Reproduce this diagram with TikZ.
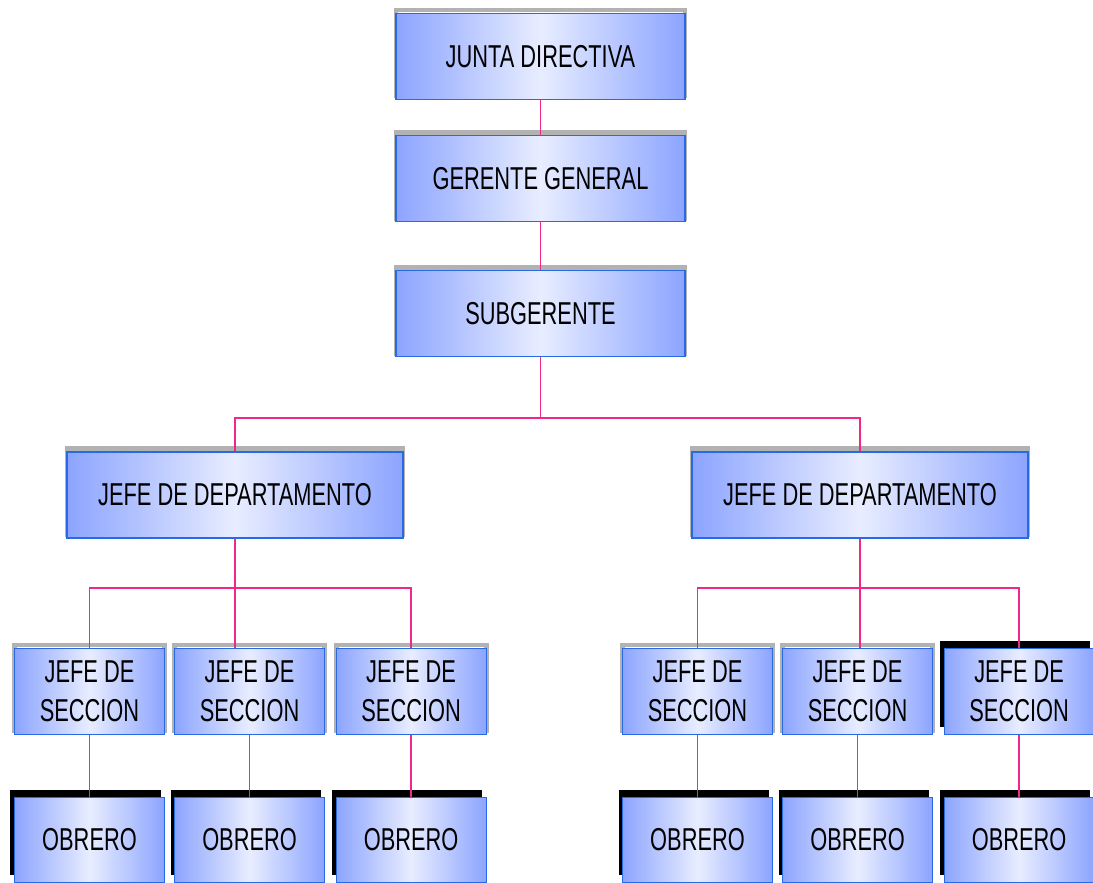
\documentclass[tikz,border=0pt]{standalone}
\usepackage{fontspec}
\newfontfamily\orgfont{Liberation Sans}[FakeStretch=0.69]
\usetikzlibrary{positioning,shadows}

\definecolor{boxedge}{RGB}{140,164,255}
\definecolor{boxmid}{RGB}{232,237,255}
\definecolor{boxline}{RGB}{40,105,230}
\definecolor{linkpink}{RGB}{240,40,140}

\begin{document}
\begin{tikzpicture}[
    box/.style={rectangle, draw=boxline, line width=0.6pt, left color=boxedge, right color=boxedge, middle color=boxmid, align=center, font=\orgfont\fontsize{18}{22}\selectfont, minimum height=1.72cm, inner sep=2pt},
    greybox/.style={box, general shadow={draw=black!30, line width=2.8pt, shadow yshift=0.07cm}},
    blackbox/.style={box, general shadow={fill=black, shadow xshift=-0.08cm, shadow yshift=0.16cm}},
    topbox/.style={greybox, minimum width=5.78cm},
    depbox/.style={greybox, minimum width=6.72cm},
    secbox/.style={greybox, minimum width=3.0cm},
    obrbox/.style={blackbox, minimum width=3.0cm, minimum height=1.70cm},
    link/.style={draw=linkpink, line width=1pt}
]
    \clip (0,0) rectangle (21.86,-17.64);

    % direccion
    \node[topbox] (junta) at (10.81,-1.13) {JUNTA DIRECTIVA};
    \node[topbox, below=0.7cm of junta] (gerente) {GERENTE GENERAL};
    \node[topbox, below=0.96cm of gerente] (sub) {SUBGERENTE};

    % departamentos
    \node[depbox] (dep1) at (4.70,-9.90) {JEFE DE DEPARTAMENTO};
    \node[depbox] (dep2) at (17.20,-9.90) {JEFE DE DEPARTAMENTO};

    % secciones
    \node[secbox] (sec1) at (1.79,-13.83) {JEFE DE\\SECCION};
    \node[secbox, right=0.18cm of sec1] (sec2) {JEFE DE\\SECCION};
    \node[secbox, right=0.21cm of sec2] (sec3) {JEFE DE\\SECCION};
    \node[secbox] (sec4) at (13.95,-13.83) {JEFE DE\\SECCION};
    \node[secbox, right=0.18cm of sec4] (sec5) {JEFE DE\\SECCION};
    \node[blackbox, minimum width=3.0cm, right=0.21cm of sec5] (sec6) {JEFE DE\\SECCION};

    % obreros
    \foreach \i in {1,...,6}
        \node[obrbox, below=1.24cm of sec\i] (obr\i) {OBRERO};

    \draw[link] (junta) -- (gerente);
    \draw[link] (gerente) -- (sub);
    \draw[link] (sub.south) -- ++(0,-1.22) coordinate (bus) -| (dep1.north);
    \draw[link] (bus) -| (dep2.north);

    \draw[link] (sec1.north) -- ++(0,1.2) -| (sec3.north);
    \draw[link] (dep1.south) -- (dep1.south |- sec2.north);
    \draw[link] (sec4.north) -- ++(0,1.2) -| (sec6.north);
    \draw[link] (dep2.south) -- (dep2.south |- sec5.north);

    \foreach \i in {1,...,6}
        \draw[link] (sec\i) -- (obr\i);
\end{tikzpicture}
\end{document}
